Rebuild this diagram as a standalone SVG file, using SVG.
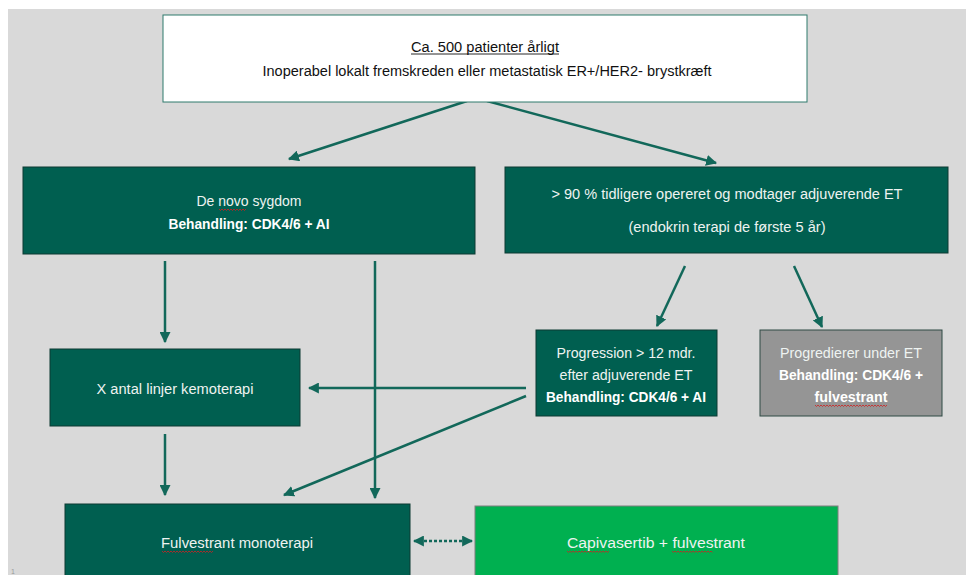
<svg xmlns="http://www.w3.org/2000/svg" width="966" height="575" viewBox="0 0 966 575">
<defs>
<style>
.bg{fill:#d9d9d9}
.dk{fill:#005f50;stroke:#0d3b33;stroke-width:1}
.gr{fill:#959595;stroke:#2f4a44;stroke-width:1}
.lg{fill:#00b050;stroke:#7f7f7f;stroke-width:1}
.wh{fill:#ffffff;stroke:#2e7a6c;stroke-width:1}
text{font-family:"Liberation Sans",Arial,sans-serif;font-size:14px;text-anchor:middle}
.t{fill:#eef3f1}
.b{font-weight:bold;fill:#ffffff}
.k{fill:#111111}
.c{stroke:#12685a;stroke-width:2.5;fill:none}
.sq{stroke:#d02020;stroke-width:0.8;fill:none}
</style>
<marker id="ah" viewBox="0 0 10 10" refX="9" refY="5" markerWidth="4.4" markerHeight="4.4" orient="auto-start-reverse" markerUnits="strokeWidth">
<path d="M0,0 L10,5 L0,10 z" fill="#12685a"/>
</marker>
</defs>
<rect x="0" y="0" width="966" height="575" fill="#ffffff"/>
<rect class="bg" x="8" y="9" width="958" height="566"/>
<text x="13" y="574" style="font-size:7px;fill:#999">1</text>

<g id="connectors">
<line class="c" x1="467" y1="101" x2="289" y2="159" marker-end="url(#ah)"/>
<line class="c" x1="487" y1="101" x2="716" y2="163" marker-end="url(#ah)"/>
<line class="c" x1="165" y1="261" x2="165" y2="342" marker-end="url(#ah)"/>
<line class="c" x1="375" y1="261" x2="375" y2="498" marker-end="url(#ah)"/>
<line class="c" x1="685" y1="266" x2="657" y2="326" marker-end="url(#ah)"/>
<line class="c" x1="794" y1="266" x2="822" y2="327" marker-end="url(#ah)"/>
<line class="c" x1="526" y1="388" x2="309" y2="388" marker-end="url(#ah)"/>
<line class="c" x1="526" y1="396" x2="284" y2="495" marker-end="url(#ah)"/>
<line class="c" x1="165" y1="434" x2="165" y2="495" marker-end="url(#ah)"/>
<line class="c" x1="414" y1="541" x2="472" y2="541" stroke-width="2" stroke-dasharray="3,2" marker-start="url(#ah)" marker-end="url(#ah)"/>
</g>

<g id="n-top">
<rect class="wh" x="163" y="15" width="644" height="87"/>
<text class="k" x="485" y="52" textLength="148" lengthAdjust="spacingAndGlyphs">Ca. 500 patienter årligt</text>
<line x1="411" y1="54" x2="559" y2="54" stroke="#111" stroke-width="0.9"/>
<text class="k" x="487" y="76" textLength="449" lengthAdjust="spacingAndGlyphs">Inoperabel lokalt fremskreden eller metastatisk ER+/HER2- brystkræft</text>
</g>

<g id="n-denovo">
<rect class="dk" x="23" y="167" width="452" height="87"/>
<text class="t" x="249" y="206" textLength="105" lengthAdjust="spacingAndGlyphs">De novo sygdom</text>
<path class="sq" d="M219,209 l1.5,1.5 l1.5,-1.5 l1.5,1.5 l1.5,-1.5 l1.5,1.5 l1.5,-1.5 l1.5,1.5 l1.5,-1.5 l1.5,1.5 l1.5,-1.5 l1.5,1.5 l1.5,-1.5 l1.5,1.5 l1.5,-1.5 l1.5,1.5 l1.5,-1.5 l1.5,1.5 l1.5,-1.5"/>
<text class="b" x="249" y="229" textLength="161" lengthAdjust="spacingAndGlyphs">Behandling: CDK4/6 + AI</text>
</g>

<g id="n-opereret">
<rect class="dk" x="505" y="167" width="443" height="86"/>
<text class="t" x="727" y="199" textLength="351" lengthAdjust="spacingAndGlyphs">&gt; 90 % tidligere opereret og modtager adjuverende ET</text>
<text class="t" x="727" y="232" textLength="197" lengthAdjust="spacingAndGlyphs">(endokrin terapi de første 5 år)</text>
</g>

<g id="n-kemo">
<rect class="dk" x="50" y="349" width="250" height="77"/>
<text class="t" x="175" y="394" textLength="157" lengthAdjust="spacingAndGlyphs">X antal linjer kemoterapi</text>
</g>

<g id="n-progression">
<rect class="dk" x="536" y="330" width="181" height="86"/>
<text class="t" x="626" y="358" textLength="139" lengthAdjust="spacingAndGlyphs">Progression &gt; 12 mdr.</text>
<text class="t" x="626" y="380" textLength="133" lengthAdjust="spacingAndGlyphs">efter adjuverende ET</text>
<text class="b" x="626" y="402" textLength="160" lengthAdjust="spacingAndGlyphs">Behandling: CDK4/6 + AI</text>
</g>

<g id="n-progredierer">
<rect class="gr" x="760" y="330" width="182" height="86"/>
<text class="t" x="851" y="358" textLength="142" lengthAdjust="spacingAndGlyphs">Progredierer under ET</text>
<text class="b" x="851" y="380" textLength="144" lengthAdjust="spacingAndGlyphs">Behandling: CDK4/6 +</text>
<text class="b" x="851" y="402" textLength="73" lengthAdjust="spacingAndGlyphs">fulvestrant</text>
<path class="sq" d="M815,405 l1.5,1.5 l1.5,-1.5 l1.5,1.5 l1.5,-1.5 l1.5,1.5 l1.5,-1.5 l1.5,1.5 l1.5,-1.5 l1.5,1.5 l1.5,-1.5 l1.5,1.5 l1.5,-1.5 l1.5,1.5 l1.5,-1.5 l1.5,1.5 l1.5,-1.5 l1.5,1.5 l1.5,-1.5 l1.5,1.5 l1.5,-1.5 l1.5,1.5 l1.5,-1.5 l1.5,1.5 l1.5,-1.5 l1.5,1.5 l1.5,-1.5 l1.5,1.5 l1.5,-1.5 l1.5,1.5 l1.5,-1.5 l1.5,1.5 l1.5,-1.5 l1.5,1.5 l1.5,-1.5 l1.5,1.5 l1.5,-1.5 l1.5,1.5 l1.5,-1.5 l1.5,1.5 l1.5,-1.5 l1.5,1.5 l1.5,-1.5 l1.5,1.5 l1.5,-1.5 l1.5,1.5 l1.5,-1.5 l1.5,1.5 l1.5,-1.5"/>
</g>

<g id="n-fulvestrant">
<rect class="dk" x="65" y="504" width="345" height="80"/>
<text class="t" x="237" y="548" textLength="152" lengthAdjust="spacingAndGlyphs">Fulvestrant monoterapi</text>
<path class="sq" d="M162,551 l1.5,1.5 l1.5,-1.5 l1.5,1.5 l1.5,-1.5 l1.5,1.5 l1.5,-1.5 l1.5,1.5 l1.5,-1.5 l1.5,1.5 l1.5,-1.5 l1.5,1.5 l1.5,-1.5 l1.5,1.5 l1.5,-1.5 l1.5,1.5 l1.5,-1.5 l1.5,1.5 l1.5,-1.5 l1.5,1.5 l1.5,-1.5 l1.5,1.5 l1.5,-1.5 l1.5,1.5 l1.5,-1.5 l1.5,1.5 l1.5,-1.5 l1.5,1.5 l1.5,-1.5 l1.5,1.5 l1.5,-1.5 l1.5,1.5 l1.5,-1.5 l1.5,1.5 l1.5,-1.5"/>
</g>

<g id="n-capivasertib">
<rect class="lg" x="475" y="506" width="363" height="78"/>
<text class="t" x="656" y="548" textLength="178" lengthAdjust="spacingAndGlyphs">Capivasertib + fulvestrant</text>
<path class="sq" d="M567,551 l1.5,1.5 l1.5,-1.5 l1.5,1.5 l1.5,-1.5 l1.5,1.5 l1.5,-1.5 l1.5,1.5 l1.5,-1.5 l1.5,1.5 l1.5,-1.5 l1.5,1.5 l1.5,-1.5 l1.5,1.5 l1.5,-1.5 l1.5,1.5 l1.5,-1.5 l1.5,1.5 l1.5,-1.5 l1.5,1.5 l1.5,-1.5 l1.5,1.5 l1.5,-1.5 l1.5,1.5 l1.5,-1.5 l1.5,1.5 l1.5,-1.5 l1.5,1.5 l1.5,-1.5"/>
<path class="sq" d="M672,551 l1.5,1.5 l1.5,-1.5 l1.5,1.5 l1.5,-1.5 l1.5,1.5 l1.5,-1.5 l1.5,1.5 l1.5,-1.5 l1.5,1.5 l1.5,-1.5 l1.5,1.5 l1.5,-1.5 l1.5,1.5 l1.5,-1.5 l1.5,1.5 l1.5,-1.5 l1.5,1.5 l1.5,-1.5 l1.5,1.5 l1.5,-1.5 l1.5,1.5 l1.5,-1.5 l1.5,1.5 l1.5,-1.5 l1.5,1.5 l1.5,-1.5 l1.5,1.5"/>
</g>
</svg>
